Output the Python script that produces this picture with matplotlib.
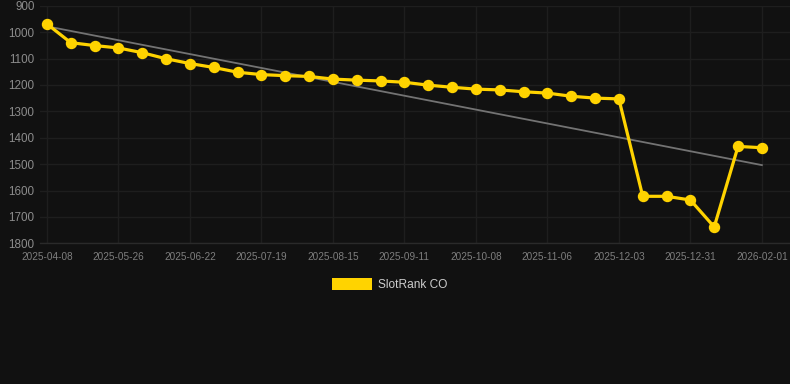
import matplotlib
matplotlib.use("Agg")
import matplotlib.pyplot as plt
import numpy as np
from matplotlib.patches import Rectangle

tick_labels = ["2025-04-08", "2025-05-26", "2025-06-22", "2025-07-19", "2025-08-15",
               "2025-09-11", "2025-10-08", "2025-11-06", "2025-12-03", "2025-12-31",
               "2026-02-01"]
ranks = [969, 1040, 1051, 1060, 1078, 1101, 1119, 1134, 1152, 1161,
         1165, 1168, 1178, 1182, 1185, 1190, 1201, 1209, 1216, 1219,
         1226, 1231, 1243, 1250, 1253, 1622, 1622, 1636, 1738, 1433,
         1438]
series_name = "SlotRank CO"
y_ticks = [900, 1000, 1100, 1200, 1300, 1400, 1500, 1600, 1700, 1800]

BG = "#111111"
GOLD = "#FFD300"

fig = plt.figure(figsize=(7.9, 3.84), dpi=100, facecolor=BG)
ax = fig.add_axes([40 / 790, 1 - 243.3 / 384, 1 - 40 / 790, (243.3 - 5.7) / 384])
ax.set_facecolor(BG)

x = np.arange(len(ranks))
coef = np.polyfit(x, ranks, 1)
ax.plot(x, np.polyval(coef, x), color="#737373", lw=1.3, zorder=2)
ax.plot(x, ranks, color=GOLD, lw=2.3, marker="o", markersize=7.2,
        markerfacecolor=GOLD, markeredgecolor=GOLD, zorder=3)

ax.set_ylim(1800, 900)
ax.set_yticks(y_ticks)
ax.set_xlim(-0.29, 31.18)
tick_pos = np.arange(0, len(ranks), 3)
ax.set_xticks(tick_pos)
ax.set_xticklabels(tick_labels)

for s in ["top", "right", "left"]:
    ax.spines[s].set_visible(False)
ax.spines["bottom"].set_color("#2a2a2a")
ax.spines["bottom"].set_linewidth(1)

ax.grid(True, color="#1e1e1e", lw=1)
ax.set_axisbelow(True)
ax.tick_params(axis="y", length=0, pad=4, labelsize=8.4, labelcolor="#8c8c8c",
               labelfontfamily="Liberation Sans")
ax.tick_params(axis="x", length=0, pad=6, labelsize=7.2, labelcolor="#7e7e7e",
               labelfontfamily="Liberation Sans")

fig.patches.append(Rectangle((332 / 790, 1 - 290 / 384), 40 / 790, 12 / 384,
                             transform=fig.transFigure, facecolor=GOLD,
                             edgecolor="none"))
fig.text(378 / 790, 1 - 285 / 384, series_name, color="#cccccc", fontsize=8.6,
         family="Liberation Sans", va="center", ha="left")

fig.savefig("out.png", dpi=100, facecolor=BG)
